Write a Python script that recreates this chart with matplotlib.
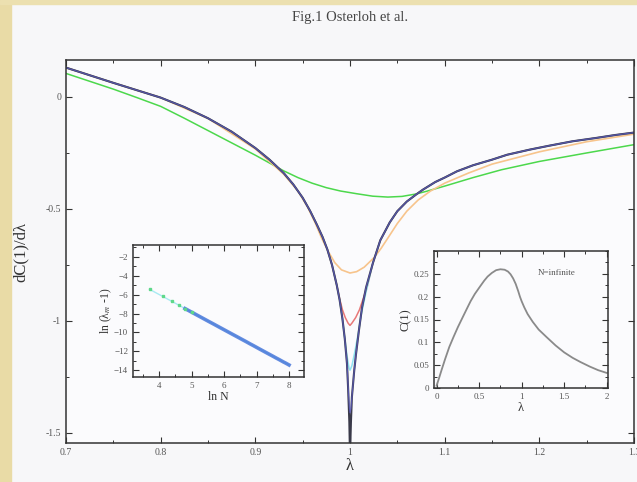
import matplotlib
matplotlib.use("Agg")
import matplotlib.pyplot as plt
from matplotlib.patches import Rectangle
from matplotlib.ticker import MultipleLocator

plt.rcParams['font.family'] = ['Liberation Serif', 'DejaVu Serif']
plt.rcParams['mathtext.fontset'] = 'stix'

# outer branches shared by the larger-N curves
lam_left = [0.70, 0.725, 0.75, 0.775, 0.80, 0.825, 0.85, 0.875, 0.90, 0.915, 0.93, 0.94,
            0.95, 0.958, 0.965, 0.971, 0.976, 0.981]
dC_left = [0.131, 0.097, 0.063, 0.03, -0.003, -0.045, -0.095, -0.155, -0.228, -0.28, -0.34, -0.39,
           -0.45, -0.51, -0.57, -0.625, -0.68, -0.75]
lam_right = [1.0243, 1.032, 1.042, 1.05, 1.06, 1.07, 1.077, 1.09, 1.10, 1.113, 1.13, 1.15,
             1.166, 1.19, 1.21, 1.235, 1.26, 1.28, 1.30]
dC_right = [-0.74, -0.64, -0.56, -0.51, -0.467, -0.435, -0.414, -0.38, -0.36, -0.332, -0.305, -0.28,
            -0.258, -0.235, -0.218, -0.198, -0.183, -0.17, -0.159]

# region around lambda = 1 for each curve
lam_dip_black = [0.986, 0.989, 0.992, 0.9945, 0.9968, 0.998, 0.9993, 1.0, 1.0, 1.001, 1.002,
                 1.0045, 1.0063, 1.0095, 1.0127, 1.017]
dC_dip_black = [-0.84, -0.905, -0.99, -1.08, -1.19, -1.30, -1.45, -1.60, -1.60, -1.45, -1.34,
                -1.22, -1.15, -1.04, -0.94, -0.85]
lam_dip_blue = [0.986, 0.989, 0.992, 0.9945, 0.9968, 0.9985, 0.9995, 1.0, 1.001, 1.002,
                1.0045, 1.0063, 1.0095, 1.0127, 1.017]
dC_dip_blue = [-0.84, -0.905, -0.99, -1.08, -1.19, -1.33, -1.39, -1.41, -1.39, -1.34,
               -1.22, -1.15, -1.04, -0.94, -0.85]
lam_dip_cyan = [0.986, 0.989, 0.992, 0.9945, 0.997, 0.999, 1.0, 1.002, 1.005, 1.0085, 1.012, 1.017]
dC_dip_cyan = [-0.84, -0.905, -0.99, -1.08, -1.16, -1.21, -1.22, -1.20, -1.14, -1.06, -0.97, -0.87]
lam_dip_red = [0.986, 0.989, 0.992, 0.995, 0.998, 1.0, 1.002, 1.006, 1.01, 1.014, 1.018]
dC_dip_red = [-0.84, -0.90, -0.95, -0.985, -1.01, -1.02, -1.01, -0.985, -0.95, -0.90, -0.85]

lam_orange = [0.70, 0.75, 0.80, 0.85, 0.90, 0.93, 0.945, 0.955, 0.963, 0.970, 0.977, 0.984, 0.991,
              1.0, 1.007, 1.015, 1.026, 1.033, 1.040, 1.05, 1.06, 1.072, 1.085, 1.10, 1.125,
              1.15, 1.20, 1.25, 1.30]
dC_orange = [0.131, 0.063, -0.003, -0.096, -0.232, -0.345, -0.42, -0.49, -0.56, -0.63, -0.69, -0.74, -0.772,
             -0.786, -0.78, -0.76, -0.715, -0.675, -0.63, -0.565, -0.51, -0.46, -0.42, -0.385, -0.34,
             -0.30, -0.245, -0.20, -0.166]

lam_green = [0.70, 0.725, 0.75, 0.775, 0.80, 0.825, 0.85, 0.875, 0.90, 0.915, 0.93, 0.945, 0.96,
             0.975, 0.99, 1.007, 1.024, 1.04, 1.055, 1.07, 1.081, 1.10, 1.13, 1.16, 1.20, 1.25, 1.30]
dC_green = [0.105, 0.07, 0.035, -0.003, -0.042, -0.095, -0.15, -0.205, -0.26, -0.295, -0.33, -0.36, -0.385,
            -0.405, -0.42, -0.432, -0.443, -0.447, -0.444, -0.433, -0.421, -0.398, -0.36, -0.325,
            -0.288, -0.25, -0.213]

# inset 1: scaling of the minimum position
lnN = [3.71, 4.11, 4.39, 4.62, 4.80, 5.01, 5.30, 5.52, 5.70, 5.86, 6.00, 6.21, 6.40,
       6.55, 6.68, 6.80, 6.91, 7.09, 7.31, 7.50, 7.60, 7.70, 7.82, 7.90, 8.00]
ln_lam_m = [-5.45, -6.19, -6.71, -7.14, -7.48, -7.87, -8.41, -8.82, -9.15, -9.45, -9.71, -10.10, -10.45,
            -10.73, -10.97, -11.20, -11.40, -11.74, -12.15, -12.50, -12.69, -12.87, -13.10, -13.24, -13.43]

# inset 2: C(1) for N = infinite
lam_c = [0.0, 0.03, 0.06, 0.10, 0.15, 0.20, 0.25, 0.31, 0.36, 0.40, 0.45, 0.51, 0.56, 0.60, 0.65,
         0.70, 0.75, 0.80, 0.84, 0.87, 0.90, 0.93, 0.96, 0.98, 1.0, 1.03, 1.07, 1.13, 1.20, 1.29,
         1.40, 1.50, 1.60, 1.69, 1.80, 1.90, 2.0]
C1 = [0.005, 0.022, 0.04, 0.063, 0.09, 0.112, 0.133, 0.156, 0.175, 0.19, 0.206, 0.222, 0.235, 0.244, 0.252,
      0.258, 0.26, 0.259, 0.255, 0.249, 0.24, 0.228, 0.212, 0.20, 0.19, 0.177, 0.162, 0.145, 0.128, 0.112,
      0.093, 0.078, 0.066, 0.057, 0.047, 0.039, 0.033]

W, H = 637, 482
fig = plt.figure(figsize=(W / 100, H / 100), dpi=100, facecolor='#f7f7f9')
# yellowish page edge of the photographed slide
fig.patches.append(Rectangle((0, 0), 11 / W, 1, transform=fig.transFigure, color='#e9dba6', zorder=0))
fig.patches.append(Rectangle((0, 1 - 4 / H), 1, 4 / H, transform=fig.transFigure, color='#ece0b0', zorder=0))

fig.text(350 / W, 1 - 17 / H, "Fig.1 Osterloh et al.", ha='center', va='center', fontsize=10.5, color='#444444')

tick_col = '#555555'


def style(ax, size):
    ax.tick_params(which='both', direction='in', top=True, right=True, colors='#333333',
                   labelcolor=tick_col, labelsize=size)
    ax.tick_params(which='major', length=4, width=0.8)
    ax.tick_params(which='minor', length=2.5, width=0.7)
    for s in ax.spines.values():
        s.set_color('#333333')
        s.set_linewidth(1.1)
    ax.set_facecolor('#fbfbfd')


ax = fig.add_axes([66 / W, 1 - 443 / H, (634 - 66) / W, (443 - 60) / H])
ax.plot(lam_green, dC_green, color='#4cd84c', lw=1.1)
ax.plot(lam_orange, dC_orange, color='#f7c48c', lw=1.2)
ax.plot(lam_left + lam_dip_red + lam_right, dC_left + dC_dip_red + dC_right, color='#e87878', lw=1.1)
ax.plot(lam_left + lam_dip_cyan + lam_right, dC_left + dC_dip_cyan + dC_right, color='#8fe3f2', lw=1.1)
ax.plot(lam_left + lam_dip_black + lam_right, dC_left + dC_dip_black + dC_right, color='#3a3a4a', lw=1.5)
ax.plot(lam_left + lam_dip_blue + lam_right, dC_left + dC_dip_blue + dC_right, color='#6060d0', lw=0.9, alpha=0.7)
ax.set_xlim(0.7, 1.3)
ax.set_ylim(-1.545, 0.165)
ax.set_xticks([0.7, 0.8, 0.9, 1.0, 1.1, 1.2, 1.3])
ax.set_xticklabels(['0.7', '0.8', '0.9', '1', '1.1', '1.2', '1.3'])
ax.set_yticks([0, -0.5, -1, -1.5])
ax.set_yticklabels(['0', '-0.5', '-1', '-1.5'])
ax.xaxis.set_minor_locator(MultipleLocator(0.05))
ax.yaxis.set_minor_locator(MultipleLocator(0.25))
style(ax, 7)
ax.set_xlabel("λ", fontsize=12, color='#333333', labelpad=1)
ax.set_ylabel("dC(1)/dλ", fontsize=12, color='#333333', labelpad=12)

# inset 1
ax1 = fig.add_axes([133 / W, 1 - 377 / H, 171 / W, 132 / H])
ax1.plot(lnN, ln_lam_m, color='#a8eaf2', lw=1.0)
ax1.plot(lnN[4:], ln_lam_m[4:], color='#3f6fd8', lw=2.6, alpha=0.8)
ax1.plot(lnN[:6], ln_lam_m[:6], 's', color='#5ed88a', ms=2)
ax1.set_xlim(3.2, 8.46)
ax1.set_ylim(-14.7, -0.77)
ax1.set_xticks([4, 5, 6, 7, 8])
ax1.set_yticks([-2, -4, -6, -8, -10, -12, -14])
ax1.xaxis.set_minor_locator(MultipleLocator(0.5))
ax1.yaxis.set_minor_locator(MultipleLocator(1))
style(ax1, 6.5)
ax1.set_xlabel("ln N", fontsize=8.5, color='#333333', labelpad=1)
ax1.set_ylabel("ln (λ$_m$ -1)", fontsize=8.5, color='#333333', labelpad=0)

# inset 2
ax2 = fig.add_axes([434 / W, 1 - 388 / H, 174 / W, 137 / H])
ax2.plot(lam_c, C1, color='#8a8a8a', lw=1.3)
ax2.set_xlim(-0.03, 2.015)
ax2.set_ylim(0, 0.30)
ax2.set_xticks([0, 0.5, 1, 1.5, 2])
ax2.set_xticklabels(['0', '0.5', '1', '1.5', '2'])
ax2.set_yticks([0, 0.05, 0.1, 0.15, 0.2, 0.25])
ax2.set_yticklabels(['0', '0.05', '0.1', '0.15', '0.2', '0.25'])
ax2.xaxis.set_minor_locator(MultipleLocator(0.25))
ax2.yaxis.set_minor_locator(MultipleLocator(0.025))
style(ax2, 6.5)
ax2.text(0.707, 0.84, "N=infinite", transform=ax2.transAxes, ha='center', va='center', fontsize=6.5, color='#555555')
ax2.set_xlabel("λ", fontsize=9, color='#333333', labelpad=1)
ax2.set_ylabel("C(1)", fontsize=9, color='#333333', labelpad=1)

fig.savefig("out.png", dpi=100, facecolor=fig.get_facecolor())
